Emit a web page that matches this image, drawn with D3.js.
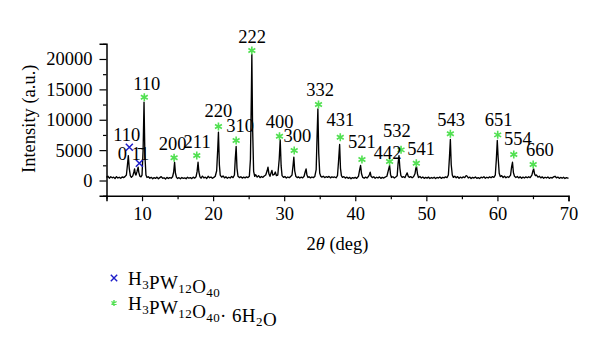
<!DOCTYPE html>
<html>
<head>
<meta charset="utf-8">
<script src="https://cdn.jsdelivr.net/npm/d3@7"></script>
<style>
  html, body { margin: 0; padding: 0; background: #fff; }
  svg text { font-family: "Liberation Serif", "Times New Roman", serif; fill: #000; }
</style>
</head>
<body>
<svg id="chart" width="600" height="342"></svg>
<script>
// XRD scan: [2θ (deg), intensity (a.u.)]
const scan = [
  [5.0,520],[5.2,700],[5.4,380],[5.6,610],[5.8,450],[6.0,560],[6.2,330],[6.4,640],[6.6,420],[6.8,530],
  [7.0,360],[7.2,590],[7.4,470],[7.6,640],[7.8,900],[7.95,2600],[8.07,4100],[8.2,2000],[8.35,800],[8.5,520],
  [8.7,760],[8.85,1400],[8.95,1900],[9.05,1100],[9.15,900],[9.3,1500],[9.45,2200],[9.55,1300],[9.7,700],[9.85,600],
  [10.0,900],[10.15,5000],[10.28,12900],[10.4,4200],[10.55,900],[10.7,500],[10.9,620],[11.1,380],[11.3,520],[11.5,300],
  [11.7,480],[11.9,350],[12.1,560],[12.3,290],[12.5,470],[12.7,640],[12.9,380],[13.1,450],[13.3,260],[13.5,520],
  [13.7,340],[13.9,470],[14.1,380],[14.3,620],[14.45,1400],[14.58,3000],[14.7,1200],[14.85,520],[15.0,340],[15.2,460],
  [15.4,280],[15.6,500],[15.8,350],[16.0,430],[16.2,300],[16.4,540],[16.6,380],[16.8,470],[17.0,320],[17.2,560],
  [17.4,390],[17.6,600],[17.75,1500],[17.88,3000],[18.0,1400],[18.15,600],[18.3,380],[18.5,720],[18.7,420],[18.9,560],
  [19.1,330],[19.3,690],[19.5,450],[19.7,580],[19.9,370],[20.1,520],[20.3,700],[20.5,1600],[20.65,5200],[20.75,7950],
  [20.88,2600],[21.0,900],[21.2,560],[21.4,750],[21.6,430],[21.8,600],[22.0,380],[22.2,540],[22.4,420],[22.6,650],
  [22.8,480],[23.0,900],[23.12,3600],[23.24,5600],[23.36,2000],[23.5,700],[23.7,480],[23.9,620],[24.1,400],[24.3,560],
  [24.5,430],[24.7,600],[24.9,480],[25.1,700],[25.25,3500],[25.38,14000],[25.45,20740],[25.55,9000],[25.7,1500],[25.85,700],
  [26.0,950],[26.2,560],[26.4,800],[26.6,480],[26.8,660],[27.0,520],[27.2,750],[27.4,900],[27.6,1600],[27.72,2200],
  [27.85,1100],[28.0,700],[28.15,1250],[28.27,1650],[28.4,900],[28.6,1000],[28.75,1400],[28.9,800],[29.1,900],[29.3,3500],
  [29.44,6700],[29.57,2400],[29.7,800],[29.9,520],[30.1,650],[30.3,420],[30.5,580],[30.7,460],[30.9,640],[31.1,900],
  [31.25,2500],[31.36,3840],[31.48,1600],[31.65,650],[31.85,480],[32.0,600],[32.2,420],[32.4,560],[32.6,440],[32.8,700],
  [32.95,1400],[33.08,1900],[33.2,900],[33.35,500],[33.5,620],[33.7,430],[33.9,580],[34.1,470],[34.3,650],[34.5,1800],
  [34.62,7000],[34.74,11800],[34.86,4500],[35.0,1200],[35.15,700],[35.3,550],[35.5,700],[35.7,480],[35.9,620],[36.1,520],
  [36.3,680],[36.5,440],[36.7,600],[36.9,500],[37.1,580],[37.3,450],[37.5,800],[37.65,3200],[37.8,5930],[37.92,2000],
  [38.05,800],[38.2,520],[38.4,640],[38.6,400],[38.8,560],[39.0,360],[39.2,520],[39.4,300],[39.6,480],[39.8,380],
  [40.0,520],[40.2,350],[40.45,700],[40.62,1800],[40.75,2470],[40.88,1100],[41.05,500],[41.25,380],[41.45,560],[41.65,420],
  [41.85,650],[42.0,1000],[42.1,1370],[42.22,700],[42.4,480],[42.6,620],[42.8,380],[43.0,540],[43.2,420],[43.4,600],
  [43.6,360],[43.8,520],[44.0,410],[44.2,560],[44.45,700],[44.68,1800],[44.83,2470],[44.96,1000],[45.1,500],[45.3,620],
  [45.5,420],[45.7,580],[45.9,800],[46.02,2800],[46.15,4100],[46.28,2000],[46.42,800],[46.6,520],[46.8,620],[47.0,480],
  [47.15,900],[47.3,1250],[47.45,700],[47.6,520],[47.8,640],[48.0,460],[48.2,620],[48.4,1100],[48.52,2000],[48.62,2300],
  [48.75,1100],[48.9,500],[49.1,650],[49.3,420],[49.5,580],[49.7,360],[49.9,520],[50.1,390],[50.3,560],[50.5,340],
  [50.7,490],[50.9,380],[51.1,540],[51.3,320],[51.5,500],[51.7,400],[51.9,580],[52.1,360],[52.3,520],[52.5,430],
  [52.7,600],[52.9,480],[53.1,900],[53.25,3800],[53.38,6750],[53.5,2600],[53.65,900],[53.8,520],[54.0,700],[54.2,460],
  [54.4,640],[54.6,380],[54.8,560],[55.0,420],[55.2,600],[55.4,480],[55.6,800],[55.75,700],[55.9,420],[56.1,560],
  [56.3,340],[56.5,520],[56.7,400],[56.9,580],[57.1,360],[57.3,480],[57.5,320],[57.7,560],[57.9,440],[58.1,620],
  [58.3,380],[58.5,540],[58.7,420],[58.9,600],[59.1,460],[59.3,640],[59.5,520],[59.7,900],[59.85,3500],[59.98,6580],
  [60.1,3800],[60.25,1200],[60.4,650],[60.6,800],[60.8,500],[61.0,700],[61.2,460],[61.4,620],[61.6,500],[61.85,900],
  [62.0,2300],[62.12,3000],[62.25,1300],[62.4,700],[62.6,500],[62.8,660],[63.0,430],[63.2,600],[63.4,380],[63.6,560],
  [63.8,420],[64.0,600],[64.2,450],[64.4,620],[64.6,480],[64.85,900],[65.0,1600],[65.1,1900],[65.22,1100],[65.35,800],
  [65.5,900],[65.7,560],[65.9,700],[66.1,440],[66.3,600],[66.5,380],[66.7,540],[66.9,420],[67.1,580],[67.3,360],
  [67.5,500],[67.7,400],[67.9,600],[68.1,700],[68.3,450],[68.5,560],[68.7,360],[68.9,500],[69.1,380],[69.3,540],
  [69.5,320],[69.7,480],[69.9,400],[70.0,450]
];

// Anhydrous phase reflections: marker [2θ, I], label text, label anchor [2θ, I]
const anhydrousPeaks = [
  { hkl: "110",        mark: [8.21, 5480], text: [7.85, 7410] },
  { hkl: "0 1\u03041", mark: [9.62, 2850], text: [8.80, 4400] }
];

// Hexahydrate phase reflections
const hydratePeaks = [
  { hkl: "110", mark: [10.32, 13710], text: [10.66, 15920] },
  { hkl: "200", mark: [14.51, 3740],  text: [14.32, 6040] },
  { hkl: "211", mark: [17.70, 4115],  text: [17.75, 6420] },
  { hkl: "220", mark: [20.75, 8890],  text: [20.75, 11410] },
  { hkl: "310", mark: [23.24, 6580],  text: [23.80, 8890] },
  { hkl: "222", mark: [25.45, 21400], text: [25.49, 23540] },
  { hkl: "400", mark: [29.34, 7290],  text: [29.34, 9710] },
  { hkl: "300", mark: [31.41, 4940],  text: [31.87, 7290] },
  { hkl: "332", mark: [34.83, 12510], text: [35.07, 14815] },
  { hkl: "431", mark: [37.89, 7130],  text: [37.89, 9880] },
  { hkl: "521", mark: [40.94, 3460],  text: [40.94, 6300] },
  { hkl: "442", mark: [44.83, 3130],  text: [44.55, 4490] },
  { hkl: "532", mark: [46.44, 5050],  text: [45.87, 8115] },
  { hkl: "541", mark: [48.59, 2850],  text: [49.25, 5220] },
  { hkl: "543", mark: [53.38, 7690],  text: [53.48, 9880] },
  { hkl: "651", mark: [60.04, 7520],  text: [60.18, 9990] },
  { hkl: "554", mark: [62.30, 4280],  text: [62.86, 6860] },
  { hkl: "660", mark: [65.03, 2630],  text: [65.96, 4940] }
];

const xMajorTicks = [10, 20, 30, 40, 50, 60, 70];
const xMinorTicks = [5, 15, 25, 35, 45, 55, 65];
const yMajorTicks = [0, 5000, 10000, 15000, 20000];
const yMinorTicks = [-2500, 2500, 7500, 12500, 17500, 22500];

const legendItems = [
  { marker: "cross",    parts: [["H"], ["3", "sub"], ["PW"], ["12", "sub"], ["O"], ["40", "sub"]] },
  { marker: "asterisk", parts: [["H"], ["3", "sub"], ["PW"], ["12", "sub"], ["O"], ["40", "sub"], ["\u00b7 6H"], ["2", "sub"], ["O"]] }
];

const GREEN = "#52e052";
const BLUE = "#1c1cc8";

const svg = d3.select("#chart");
const x = d3.scaleLinear().domain([5, 70]).range([106.5, 568.5]);
const y = d3.scaleLinear().domain([-2500, 22500]).range([195.7, 43.8]);

// axes
const xAxis = svg.append("g").attr("transform", `translate(0,${y.range()[0]})`);
xAxis.call(d3.axisBottom(x).tickValues(xMajorTicks).tickSize(5.5).tickPadding(6).tickFormat(d3.format("d")));
xAxis.append("g").call(d3.axisBottom(x).tickValues(xMinorTicks).tickSize(3.5).tickFormat(""))
  .select(".domain").remove();

const yAxis = svg.append("g").attr("transform", `translate(${x.range()[0]},0)`);
yAxis.call(d3.axisLeft(y).tickValues(yMajorTicks).tickSize(7).tickPadding(7).tickFormat(d3.format("d")));
yAxis.append("g").call(d3.axisLeft(y).tickValues(yMinorTicks).tickSize(3.5).tickFormat(""))
  .select(".domain").remove();

svg.selectAll(".domain").attr("stroke", "#000").attr("stroke-width", 1.5);
svg.selectAll(".tick line").attr("stroke", "#000").attr("stroke-width", 1.2);
svg.selectAll(".tick text")
  .style("font-family", "'Liberation Serif', serif")
  .style("font-size", "18.5px")
  .attr("fill", "#000");

// axis titles
const xTitle = svg.append("text")
  .attr("x", (x.range()[0] + x.range()[1]) / 2)
  .attr("y", 250)
  .attr("text-anchor", "middle")
  .style("font-size", "18.5px");
xTitle.append("tspan").text("2");
xTitle.append("tspan").style("font-style", "italic").text("\u03b8");
xTitle.append("tspan").text(" (deg)");

svg.append("text")
  .attr("transform", `translate(35,${(y.range()[0] + y.range()[1]) / 2 - 1}) rotate(-90)`)
  .attr("text-anchor", "middle")
  .style("font-size", "18.5px")
  .text("Intensity (a.u.)");

// diffraction pattern
svg.append("path")
  .datum(scan)
  .attr("fill", "none")
  .attr("stroke", "#000")
  .attr("stroke-width", 1.35)
  .attr("stroke-linejoin", "round")
  .attr("d", d3.line().x(d => x(d[0])).y(d => y(d[1])));

// marker glyphs
function asteriskPath(r) {
  const p = d3.path();
  for (let k = 0; k < 3; k++) {
    const a = Math.PI / 2 + k * Math.PI / 3;
    p.moveTo(r * Math.cos(a), r * Math.sin(a));
    p.lineTo(-r * Math.cos(a), -r * Math.sin(a));
  }
  return p.toString();
}
function crossPath(r) {
  return `M${-r},${-r}L${r},${r}M${-r},${r}L${r},${-r}`;
}

svg.append("g").selectAll("path")
  .data(hydratePeaks).join("path")
  .attr("transform", d => `translate(${x(d.mark[0])},${y(d.mark[1])})`)
  .attr("d", asteriskPath(4))
  .attr("stroke", GREEN).attr("stroke-width", 1.6).attr("fill", "none");

svg.append("g").selectAll("path")
  .data(anhydrousPeaks).join("path")
  .attr("transform", d => `translate(${x(d.mark[0])},${y(d.mark[1])})`)
  .attr("d", crossPath(3.5))
  .attr("stroke", BLUE).attr("stroke-width", 1.5).attr("fill", "none");

// hkl labels
svg.append("g").selectAll("text")
  .data(anhydrousPeaks.concat(hydratePeaks)).join("text")
  .attr("x", d => x(d.text[0]))
  .attr("y", d => y(d.text[1]) + 6)
  .attr("text-anchor", "middle")
  .style("font-size", "18.5px")
  .text(d => d.hkl);

// legend
const legend = svg.append("g");
legendItems.forEach((item, i) => {
  const cy = 278 + i * 25;
  const g = legend.append("g");
  if (item.marker === "cross") {
    g.append("path").attr("transform", `translate(114,${cy})`).attr("d", crossPath(3.2))
      .attr("stroke", BLUE).attr("stroke-width", 1.4).attr("fill", "none");
  } else {
    g.append("path").attr("transform", `translate(114,${cy})`).attr("d", asteriskPath(3))
      .attr("stroke", GREEN).attr("stroke-width", 1.4).attr("fill", "none");
  }
  const t = g.append("text").attr("x", 128).attr("y", cy + 7)
    .style("font-size", "19px").style("letter-spacing", "0.4px");
  item.parts.forEach(([s, kind]) => {
    if (kind === "sub") {
      t.append("tspan").attr("dy", 4).style("font-size", "13px").text(s);
      t.append("tspan").attr("dy", -4).text("");
    } else {
      t.append("tspan").text(s);
    }
  });
});
</script>
</body>
</html>
